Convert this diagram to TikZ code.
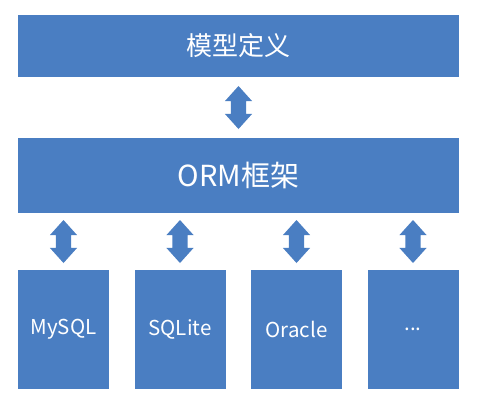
\documentclass[tikz,border=0pt]{standalone}
\usepackage{fontspec}
\setmainfont{Noto Sans CJK SC}
\usetikzlibrary{shapes.arrows, calc, positioning}
\definecolor{ormblue}{RGB}{74,126,194}

\begin{document}
\begin{tikzpicture}[x=1pt,y=-1pt,
   box/.style={fill=ormblue,text=white,inner sep=0pt},
   wide/.style={box,minimum width=441pt},
   db/.style={box,minimum width=91pt,minimum height=119pt,font=\fontsize{20.5}{24}\selectfont},
   dblarrow/.style={double arrow,fill=ormblue,rotate=90,inner sep=0pt,
      text height=15pt,text depth=0pt,minimum height=43pt,
      double arrow head extend=6pt,double arrow tip angle=84}
  ]
 \useasboundingbox (0,0) rectangle (478,400);

 % layers
 \node[wide,minimum height=62pt,font=\fontsize{26}{30}\selectfont] (model) at (238.5,46) {模型定义};
 \node[wide,minimum height=75pt,font=\fontsize{29}{33}\selectfont] (orm) at (238.5,175.5) {ORM框架};

 % databases
 \node[db] (mysql)  at (63.5,329.5) {MySQL};
 \node[db] (sqlite) at (180,329.5) {SQLite};
 \node[db] (oracle) at (296.5,329.5) {Oracle};
 \node[db] (more)   at (413,329.5) {...};

 % arrows
 \node[dblarrow] (a0) at ($(model.south)!0.5!(orm.north)$) {};
 \foreach \d/\n in {mysql/a1, sqlite/a2, oracle/a3, more/a4}
   \node[dblarrow] (\n) at ($(orm.south -| \d.north)!0.5!(\d.north)$) {};

\end{tikzpicture}
\end{document}
